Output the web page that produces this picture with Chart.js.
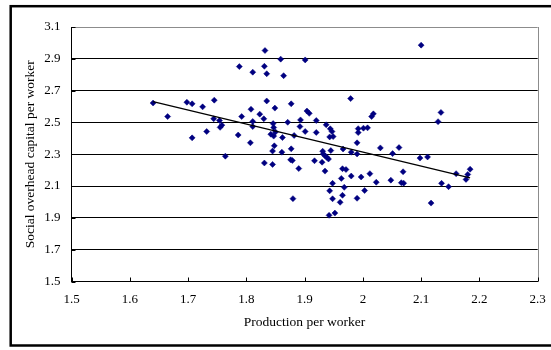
<!DOCTYPE html>
<html>
<head>
<meta charset="utf-8">
<script src="https://cdn.jsdelivr.net/npm/chart.js@4.4.1/dist/chart.umd.min.js"></script>
<style>
  html, body { margin: 0; padding: 0; background: #fff; }
  #wrap { width: 551px; height: 350px; position: relative; }
</style>
</head>
<body>
<div id="wrap"><canvas id="c" width="551" height="350"></canvas></div>
<script>
// Production per worker (x) and social overhead capital per worker (y), one entry per region
const productionPerWorker = [
  1.640, 1.665, 1.698, 1.707, 1.707, 1.725, 1.732, 1.745, 1.744, 1.754,
  1.755, 1.758, 1.764, 1.788, 1.786, 1.792, 1.811, 1.808, 1.811, 1.811,
  1.807, 1.823, 1.830, 1.832, 1.831, 1.835, 1.835, 1.831, 1.845, 1.845,
  1.848, 1.846, 1.847, 1.842, 1.847, 1.850, 1.849, 1.859, 1.864, 1.862,
  1.861, 1.871, 1.877, 1.877, 1.876, 1.879, 1.882, 1.880, 1.890, 1.892,
  1.893, 1.901, 1.901, 1.904, 1.908, 1.917, 1.920, 1.920, 1.930, 1.931,
  1.932, 1.935, 1.938, 1.941, 1.935, 1.937, 1.943, 1.942, 1.944, 1.947,
  1.943, 1.949, 1.945, 1.948, 1.948, 1.952, 1.966, 1.965, 1.963, 1.968,
  1.965, 1.961, 1.971, 1.979, 1.980, 1.980, 1.990, 1.990, 1.992, 1.992,
  1.990, 1.997, 2.001, 2.008, 2.003, 2.012, 2.015, 2.018, 2.023, 2.030,
  2.048, 2.051, 2.062, 2.069, 2.066, 2.070, 2.098, 2.100, 2.111, 2.117,
  2.129, 2.134, 2.135, 2.147, 2.160, 2.177, 2.180, 2.184
];
const overheadPerWorker = [
  2.622, 2.537, 2.627, 2.617, 2.403, 2.598, 2.443, 2.640, 2.523, 2.512,
  2.469, 2.483, 2.288, 2.851, 2.421, 2.537, 2.816, 2.583, 2.506, 2.474,
  2.372, 2.552, 2.523, 2.952, 2.853, 2.806, 2.635, 2.245, 2.236, 2.320,
  2.353, 2.493, 2.468, 2.426, 2.414, 2.440, 2.590, 2.898, 2.794, 2.405,
  2.313, 2.501, 2.617, 2.334, 2.265, 2.261, 2.418, 2.021, 2.210, 2.474,
  2.516, 2.893, 2.443, 2.572, 2.557, 2.259, 2.512, 2.437, 2.250, 2.319,
  2.302, 2.290, 2.281, 2.270, 2.194, 2.485, 2.070, 1.916, 2.460, 2.443,
  2.409, 2.411, 2.323, 2.020, 2.117, 1.930, 2.333, 2.209, 2.148, 2.092,
  2.042, 1.998, 2.204, 2.650, 2.313, 2.163, 2.302, 2.372, 2.436, 2.461,
  2.023, 2.157, 2.464, 2.466, 2.072, 2.178, 2.537, 2.554, 2.124, 2.340,
  2.137, 2.304, 2.342, 2.190, 2.121, 2.118, 2.276, 2.986, 2.283, 1.993,
  2.505, 2.563, 2.117, 2.096, 2.178, 2.142, 2.173, 2.206
];

// Linear trend line end points
const trendX = [1.640, 2.184];
const trendY = [2.631, 2.151];

// Axis tick values
const xTickValues = [1.5, 1.6, 1.7, 1.8, 1.9, 2.0, 2.1, 2.2, 2.3];
const yTickValues = [1.5, 1.7, 1.9, 2.1, 2.3, 2.5, 2.7, 2.9, 3.1];

const xTitle = 'Production per worker';
const yTitle = 'Social overhead capital per worker';

const SERIF = "'Liberation Serif', 'Times New Roman', Times, serif";
const FRAME_GREY = '#8c8c8c';

const points = productionPerWorker.map((x, i) => ({ x, y: overheadPerWorker[i] }));
const trend = trendX.map((x, i) => ({ x, y: trendY[i] }));

// White page, outer frame, grey right edge of the plot and inward tick marks
const decorations = {
  id: 'decorations',
  beforeDraw(chart) {
    const { ctx, width, height } = chart;
    ctx.save();
    ctx.fillStyle = '#fff';
    ctx.fillRect(0, 0, width, height);
    ctx.restore();
  },
  beforeDatasetsDraw(chart) {
    const { ctx, chartArea: a, scales: { x, y } } = chart;
    ctx.save();
    ctx.lineWidth = 1;
    ctx.strokeStyle = FRAME_GREY;
    const rx = Math.round(a.right) + 0.5;
    ctx.beginPath();
    ctx.moveTo(rx, a.top);
    ctx.lineTo(rx, a.bottom);
    ctx.stroke();

    ctx.strokeStyle = '#000';
    ctx.beginPath();
    x.ticks.forEach(t => {
      const px = Math.round(x.getPixelForValue(t.value)) + 0.5;
      ctx.moveTo(px, a.bottom);
      ctx.lineTo(px, a.bottom - 4);
    });
    y.ticks.forEach(t => {
      const py = Math.round(y.getPixelForValue(t.value)) + 0.5;
      ctx.moveTo(a.left, py);
      ctx.lineTo(a.left + 4, py);
    });
    ctx.stroke();
    ctx.restore();
  },
  afterDraw(chart) {
    const { ctx } = chart;
    ctx.save();
    ctx.strokeStyle = '#000';
    ctx.lineWidth = 2.5;
    ctx.strokeRect(10.7, 6.2, 600, 339.3);
    ctx.restore();
  }
};

new Chart(document.getElementById('c'), {
  type: 'scatter',
  data: {
    datasets: [
      {
        label: 'Trend',
        data: trend,
        showLine: true,
        borderColor: '#000',
        borderWidth: 1.3,
        pointRadius: 0,
        fill: false
      },
      {
        label: 'Regions',
        data: points,
        pointStyle: 'rectRot',
        pointRadius: 3,
        pointBorderWidth: 0.5,
        backgroundColor: '#000080',
        borderColor: '#000080'
      }
    ]
  },
  options: {
    responsive: false,
    animation: false,
    devicePixelRatio: 1,
    layout: { padding: { left: 0, top: 27, right: 13.3, bottom: 0 } },
    plugins: {
      legend: { display: false },
      tooltip: { enabled: false }
    },
    scales: {
      x: {
        type: 'linear',
        min: 1.5,
        max: 2.3,
        afterBuildTicks: s => { s.ticks = xTickValues.map(v => ({ value: v })); },
        afterFit: s => { s.height = 68.5; s.paddingLeft = 0; s.paddingRight = 0; },
        grid: { display: false, drawTicks: false },
        border: { display: true, color: '#000', width: 1 },
        ticks: {
          color: '#000',
          padding: 10,
          font: { family: SERIF, size: 13 },
          maxRotation: 0,
          autoSkip: false,
          callback: v => String(v)
        },
        title: {
          display: true,
          text: xTitle,
          color: '#000',
          font: { family: SERIF, size: 13.5 },
          padding: { top: 0, bottom: 19 }
        }
      },
      y: {
        type: 'linear',
        min: 1.5,
        max: 3.1,
        afterBuildTicks: s => { s.ticks = yTickValues.map(v => ({ value: v })); },
        afterFit: s => { s.width = 71.5; s.paddingTop = 0; s.paddingBottom = 0; },
        grid: {
          display: true,
          drawTicks: false,
          color: c => (c.tick && c.tick.value === 3.1 ? FRAME_GREY : '#000'),
          lineWidth: 1
        },
        border: { display: true, color: '#000', width: 1 },
        ticks: {
          color: '#000',
          padding: 11,
          font: { family: SERIF, size: 13 },
          autoSkip: false,
          callback: v => String(v)
        },
        title: {
          display: true,
          text: yTitle,
          color: '#000',
          font: { family: SERIF, size: 13.5 },
          padding: { top: 22, bottom: 0 }
        }
      }
    }
  },
  plugins: [decorations]
});
</script>
</body>
</html>
